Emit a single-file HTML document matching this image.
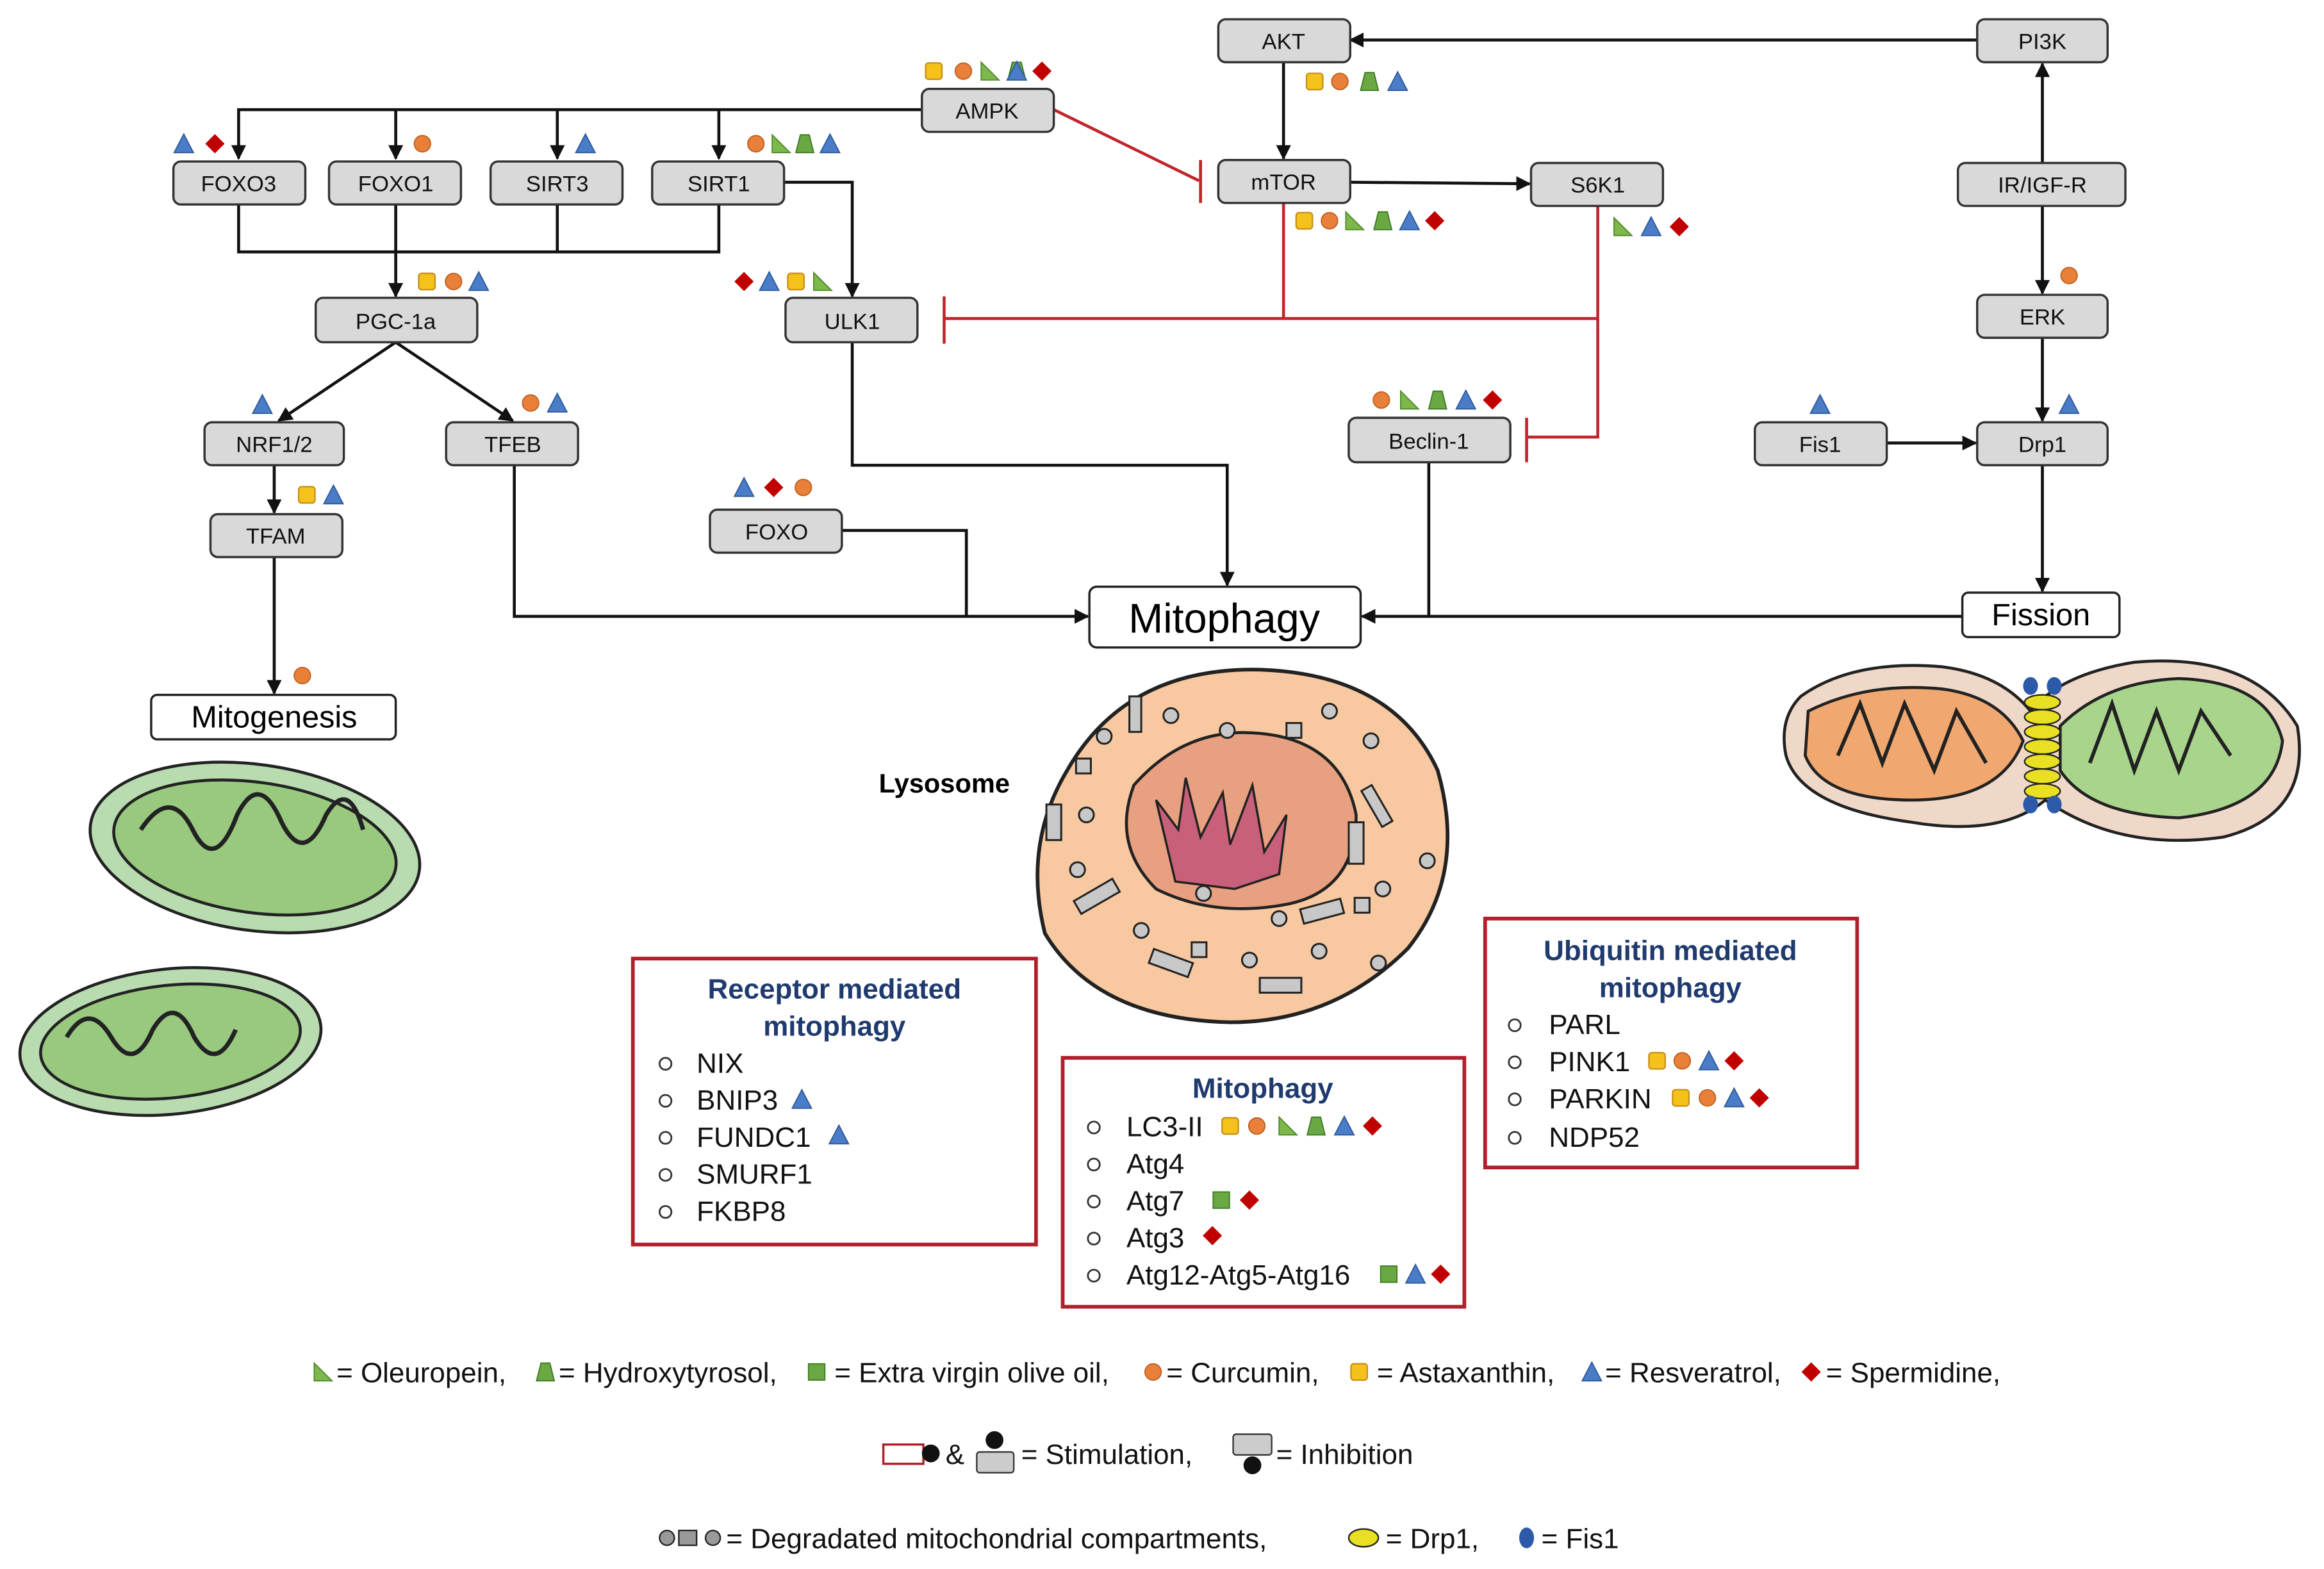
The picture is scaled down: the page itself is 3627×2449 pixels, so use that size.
<!DOCTYPE html>
<html><head><meta charset="utf-8"><style>
html,body{margin:0;padding:0;background:#fff}
svg{display:block}
text{font-family:"Liberation Sans",Arial,sans-serif}
</style></head><body>
<svg width="3627" height="2449" viewBox="0 0 1568 1059" preserveAspectRatio="none" xmlns="http://www.w3.org/2000/svg">
<defs>
<marker id="ar" markerWidth="10" markerHeight="10" refX="9" refY="5" orient="auto" markerUnits="userSpaceOnUse"><path d="M0,0 L10,5 L0,10 z" fill="#111"/></marker>
<g id="sq"><rect x="-5.5" y="-5.5" width="11" height="11" rx="2" fill="#f5c21b" stroke="#c8901a" stroke-width="1"/></g>
<g id="ci"><circle r="5.5" fill="#e8803a" stroke="#c06020" stroke-width="0.8"/></g>
<g id="rt"><path d="M-6,6 L-6,-6 L6,6 z" fill="#7cb84a" stroke="#4f8a2a" stroke-width="0.8"/></g>
<g id="tp"><path d="M-6,6 L-3,-6 L3,-6 L6,6 z" fill="#6aa844" stroke="#3f7a22" stroke-width="0.8"/></g>
<g id="tr"><path d="M-6.5,6 L0,-6.5 L6.5,6 z" fill="#4a7cc7" stroke="#2e5a9c" stroke-width="0.8"/></g>
<g id="di"><path d="M0,-6.5 L6.5,0 L0,6.5 L-6.5,0 z" fill="#c00000"/></g>
<g id="gs"><rect x="-5.5" y="-5.5" width="11" height="11" fill="#6aa844" stroke="#3f7a22" stroke-width="0.8"/></g>
</defs>

<!-- lines black -->
<g stroke="#111" stroke-width="2" fill="none">
<line x1="1334" y1="27" x2="911" y2="27" marker-end="url(#ar)"/>
<line x1="866" y1="42" x2="866" y2="107" marker-end="url(#ar)"/>
<line x1="1378" y1="110" x2="1378" y2="43" marker-end="url(#ar)"/>
<line x1="1378" y1="139" x2="1378" y2="198" marker-end="url(#ar)"/>
<line x1="1378" y1="228" x2="1378" y2="284" marker-end="url(#ar)"/>
<line x1="1273" y1="299" x2="1333" y2="299" marker-end="url(#ar)"/>
<line x1="1378" y1="314" x2="1378" y2="399" marker-end="url(#ar)"/>
<line x1="1324" y1="416" x2="919" y2="416" marker-end="url(#ar)"/>
<line x1="911" y1="123" x2="1032" y2="124" marker-end="url(#ar)"/>
<polyline points="622,74 161,74 161,107" marker-end="url(#ar)"/>
<line x1="267" y1="74" x2="267" y2="107" marker-end="url(#ar)"/>
<line x1="376" y1="74" x2="376" y2="107" marker-end="url(#ar)"/>
<line x1="485" y1="74" x2="485" y2="107" marker-end="url(#ar)"/>
<polyline points="161,138 161,170 485,170 485,138"/>
<line x1="376" y1="138" x2="376" y2="170"/>
<line x1="267" y1="138" x2="267" y2="200" marker-end="url(#ar)"/>
<polyline points="529,123 575,123 575,200" marker-end="url(#ar)"/>
<polyline points="575,231 575,314 828,314 828,395" marker-end="url(#ar)"/>
<polyline points="568,358 652,358 652,416"/>
<polyline points="347,314 347,416 734,416" marker-end="url(#ar)"/>
<line x1="964" y1="312" x2="964" y2="416"/>
<line x1="267" y1="231" x2="188" y2="284" marker-end="url(#ar)"/>
<line x1="267" y1="231" x2="346" y2="284" marker-end="url(#ar)"/>
<line x1="185" y1="314" x2="185" y2="346" marker-end="url(#ar)"/>
<line x1="185" y1="376" x2="185" y2="468" marker-end="url(#ar)"/>
</g>
<!-- red inhibition -->
<g stroke="#c0262c" stroke-width="2" fill="none">
<line x1="711" y1="74" x2="809" y2="122"/>
<line x1="810" y1="108" x2="810" y2="137"/>
<line x1="866" y1="137" x2="866" y2="215"/>
<polyline points="1078,139 1078,295 1030,295"/>
<line x1="1030" y1="282" x2="1030" y2="312"/>
<line x1="637" y1="215" x2="1078" y2="215"/>
<line x1="637" y1="200" x2="637" y2="232"/>
</g>

<!-- gray boxes -->
<g fill="#d9d9d9" stroke="#333" stroke-width="1.5">
<rect x="822" y="13" width="89" height="29" rx="5"/>
<rect x="1334" y="13" width="88" height="29" rx="5"/>
<rect x="622" y="60" width="89" height="29" rx="5"/>
<rect x="822" y="108" width="89" height="29" rx="5"/>
<rect x="1033" y="110" width="89" height="29" rx="5"/>
<rect x="1321" y="110" width="113" height="29" rx="5"/>
<rect x="117" y="109" width="89" height="29" rx="5"/>
<rect x="222" y="109" width="89" height="29" rx="5"/>
<rect x="331" y="109" width="89" height="29" rx="5"/>
<rect x="440" y="109" width="89" height="29" rx="5"/>
<rect x="213" y="201" width="109" height="30" rx="5"/>
<rect x="530" y="201" width="89" height="30" rx="5"/>
<rect x="1334" y="199" width="88" height="29" rx="5"/>
<rect x="138" y="285" width="94" height="29" rx="5"/>
<rect x="301" y="285" width="89" height="29" rx="5"/>
<rect x="910" y="282" width="109" height="30" rx="5"/>
<rect x="1184" y="285" width="89" height="29" rx="5"/>
<rect x="1334" y="285" width="88" height="29" rx="5"/>
<rect x="142" y="347" width="89" height="29" rx="5"/>
<rect x="479" y="344" width="89" height="29" rx="5"/>
</g>
<g font-size="15" text-anchor="middle" fill="#111">
<text x="866" y="33">AKT</text><text x="1378" y="33">PI3K</text><text x="666" y="80">AMPK</text>
<text x="866" y="128">mTOR</text><text x="1078" y="130">S6K1</text><text x="1378" y="130">IR/IGF-R</text>
<text x="161" y="129">FOXO3</text><text x="267" y="129">FOXO1</text><text x="376" y="129">SIRT3</text><text x="485" y="129">SIRT1</text>
<text x="267" y="222">PGC-1a</text><text x="575" y="222">ULK1</text><text x="1378" y="219">ERK</text>
<text x="185" y="305">NRF1/2</text><text x="346" y="305">TFEB</text><text x="964" y="303">Beclin-1</text>
<text x="1228" y="305">Fis1</text><text x="1378" y="305">Drp1</text><text x="186" y="367">TFAM</text><text x="524" y="364">FOXO</text>
</g>
<!-- white boxes -->
<g fill="#fff" stroke="#222" stroke-width="1.5">
<rect x="735" y="396" width="183" height="41" rx="5"/>
<rect x="1324" y="400" width="106" height="30" rx="4"/>
<rect x="102" y="469" width="165" height="30" rx="4"/>
</g>
<text x="826" y="427" font-size="28" text-anchor="middle">Mitophagy</text>
<text x="1377" y="422" font-size="21" text-anchor="middle">Fission</text>
<text x="185" y="491" font-size="21" text-anchor="middle">Mitogenesis</text>

<!-- icons -->
<use href="#sq" x="630" y="48"/><use href="#ci" x="650" y="48"/><use href="#rt" x="668" y="48"/><use href="#tp" x="686" y="48"/><use href="#tr" x="686" y="48" transform="translate(0,0)"/>
<use href="#di" x="703" y="48"/>
<use href="#tr" x="124" y="97"/><use href="#di" x="145" y="97"/>
<use href="#ci" x="285" y="97"/><use href="#tr" x="395" y="97"/>
<use href="#ci" x="510" y="97"/><use href="#rt" x="527" y="97"/><use href="#tp" x="543" y="97"/><use href="#tr" x="560" y="97"/>
<use href="#sq" x="288" y="190"/><use href="#ci" x="306" y="190"/><use href="#tr" x="323" y="190"/>
<use href="#di" x="502" y="190"/><use href="#tr" x="519" y="190"/><use href="#sq" x="537" y="190"/><use href="#rt" x="555" y="190"/>
<use href="#sq" x="887" y="55"/><use href="#ci" x="904" y="55"/><use href="#tp" x="924" y="55"/><use href="#tr" x="943" y="55"/>
<use href="#sq" x="880" y="149"/><use href="#ci" x="897" y="149"/><use href="#rt" x="914" y="149"/><use href="#tp" x="933" y="149"/><use href="#tr" x="951" y="149"/><use href="#di" x="968" y="149"/>
<use href="#rt" x="1095" y="153"/><use href="#tr" x="1114" y="153"/><use href="#di" x="1133" y="153"/>
<use href="#ci" x="932" y="270"/><use href="#rt" x="951" y="270"/><use href="#tp" x="970" y="270"/><use href="#tr" x="989" y="270"/><use href="#di" x="1007" y="270"/>
<use href="#tr" x="177" y="273"/><use href="#ci" x="358" y="272"/><use href="#tr" x="376" y="272"/>
<use href="#sq" x="207" y="334"/><use href="#tr" x="225" y="334"/>
<use href="#tr" x="502" y="329"/><use href="#di" x="522" y="329"/><use href="#ci" x="542" y="329"/>
<use href="#ci" x="1396" y="186"/><use href="#tr" x="1228" y="273"/><use href="#tr" x="1396" y="273"/>
<use href="#ci" x="204" y="456"/>

<!-- left mitochondria -->
<g stroke="#222" stroke-width="2">
<ellipse cx="172" cy="572" rx="112" ry="56" fill="#b9dbb0" transform="rotate(8 172 572)"/>
<ellipse cx="172" cy="572" rx="96" ry="44" fill="#98c97e" transform="rotate(8 172 572)"/>
<path d="M95,560 q20,-30 35,0 q15,30 30,-10 q15,-30 30,5 q15,30 30,-5 q15,-25 25,10" fill="none" stroke-width="3"/>
<ellipse cx="115" cy="703" rx="102" ry="49" fill="#b9dbb0" transform="rotate(-6 115 703)"/>
<ellipse cx="115" cy="703" rx="88" ry="38" fill="#98c97e" transform="rotate(-6 115 703)"/>
<path d="M45,700 q15,-25 30,0 q15,25 28,-5 q15,-25 28,5 q15,25 28,-5" fill="none" stroke-width="3"/>
</g>

<!-- lysosome -->
<path d="M720,520 Q760,450 850,452 Q940,455 970,520 Q990,590 950,640 Q900,690 830,690 Q740,688 705,630 Q690,570 720,520z" fill="#f8c9a0" stroke="#222" stroke-width="2.5"/>
<path d="M765,530 Q800,490 850,495 Q905,500 915,550 Q915,600 870,610 Q820,620 780,600 Q750,570 765,530z" fill="#e7a080" stroke="#222" stroke-width="2"/>
<path d="M780,540 l15,20 l5,-35 l10,40 l15,-30 l5,35 l15,-40 l8,45 l15,-25 l-5,40 l-30,10 l-40,-5 z" fill="#c8607a" stroke="#222" stroke-width="1.5"/>
<g fill="#c8c8c8" stroke="#222" stroke-width="1.3">
<circle cx="745" cy="497" r="5"/><circle cx="790" cy="483" r="5"/><circle cx="828" cy="493" r="5"/><circle cx="897" cy="480" r="5"/><circle cx="925" cy="500" r="5"/>
<circle cx="733" cy="550" r="5"/><circle cx="727" cy="587" r="5"/><circle cx="770" cy="628" r="5"/><circle cx="812" cy="603" r="5"/><circle cx="863" cy="620" r="5"/>
<circle cx="890" cy="642" r="5"/><circle cx="930" cy="650" r="5"/><circle cx="843" cy="648" r="5"/><circle cx="963" cy="581" r="5"/><circle cx="933" cy="600" r="5"/>
<rect x="762" y="470" width="8" height="24"/><rect x="706" y="543" width="10" height="24"/><rect x="725" y="600" width="30" height="10" transform="rotate(-30 740 605)"/>
<rect x="925" y="530" width="8" height="28" transform="rotate(-30 929 544)"/><rect x="910" y="555" width="10" height="28"/><rect x="776" y="645" width="28" height="10" transform="rotate(20 790 650)"/>
<rect x="850" y="660" width="28" height="10"/><rect x="878" y="610" width="28" height="10" transform="rotate(-15 892 615)"/>
<rect x="868" y="488" width="10" height="10"/><rect x="726" y="512" width="10" height="10"/><rect x="804" y="636" width="10" height="10"/><rect x="914" y="606" width="10" height="10"/>
</g>
<text x="593" y="535" font-size="18" font-weight="bold">Lysosome</text>

<!-- fission mito -->
<path d="M1215,470 Q1250,445 1310,450 Q1350,455 1370,480 Q1390,455 1440,447 Q1520,440 1550,490 Q1560,550 1500,565 Q1430,575 1380,540 Q1350,565 1290,555 Q1215,545 1205,510 Q1200,485 1215,470z" fill="#f0d8c8" stroke="#222" stroke-width="2"/>
<path d="M1220,480 Q1260,460 1310,465 Q1350,470 1365,500 Q1350,540 1290,540 Q1230,540 1218,510z" fill="#f0a870" stroke="#222" stroke-width="2"/>
<path d="M1390,490 Q1420,460 1470,458 Q1530,460 1540,500 Q1535,545 1470,552 Q1410,550 1390,520z" fill="#a8d48c" stroke="#222" stroke-width="2"/>
<path d="M1240,510 l15,-35 l15,40 l15,-40 l20,45 l15,-40 l20,35" fill="none" stroke="#222" stroke-width="2.5"/>
<path d="M1410,515 l15,-40 l15,45 l15,-40 l15,40 l15,-40 l20,30" fill="none" stroke="#222" stroke-width="2.5"/>
<g fill="#e8e020" stroke="#222" stroke-width="1">
<ellipse cx="1378" cy="474" rx="12" ry="5"/><ellipse cx="1378" cy="484" rx="12" ry="5"/><ellipse cx="1378" cy="494" rx="12" ry="5"/><ellipse cx="1378" cy="504" rx="12" ry="5"/><ellipse cx="1378" cy="514" rx="12" ry="5"/><ellipse cx="1378" cy="524" rx="12" ry="5"/><ellipse cx="1378" cy="534" rx="12" ry="5"/>
</g>
<g fill="#2d5aa8"><ellipse cx="1370" cy="463" rx="5" ry="6"/><ellipse cx="1386" cy="463" rx="5" ry="6"/><ellipse cx="1370" cy="543" rx="5" ry="6"/><ellipse cx="1386" cy="543" rx="5" ry="6"/></g>

<!-- info boxes -->
<g fill="#fff" stroke="#b0202a" stroke-width="2.5">
<rect x="427" y="647" width="272" height="193"/>
<rect x="717" y="714" width="271" height="168"/>
<rect x="1002" y="620" width="251" height="168"/>
</g>
<g font-size="19" font-weight="bold" fill="#1f3a6e" text-anchor="middle">
<text x="563" y="674">Receptor mediated</text><text x="563" y="699">mitophagy</text>
<text x="852" y="741">Mitophagy</text>
<text x="1127" y="648">Ubiquitin mediated</text><text x="1127" y="673">mitophagy</text>
</g>
<g fill="none" stroke="#333" stroke-width="1.2">
<circle cx="449" cy="718" r="4"/><circle cx="449" cy="743" r="4"/><circle cx="449" cy="768" r="4"/><circle cx="449" cy="793" r="4"/><circle cx="449" cy="818" r="4"/>
<circle cx="738" cy="761" r="4"/><circle cx="738" cy="786" r="4"/><circle cx="738" cy="811" r="4"/><circle cx="738" cy="836" r="4"/><circle cx="738" cy="861" r="4"/>
<circle cx="1022" cy="692" r="4"/><circle cx="1022" cy="717" r="4"/><circle cx="1022" cy="742" r="4"/><circle cx="1022" cy="768" r="4"/>
</g>
<g font-size="19" fill="#111">
<text x="470" y="724">NIX</text><text x="470" y="749">BNIP3</text><text x="470" y="774">FUNDC1</text><text x="470" y="799">SMURF1</text><text x="470" y="824">FKBP8</text>
<text x="760" y="767">LC3-II</text><text x="760" y="792">Atg4</text><text x="760" y="817">Atg7</text><text x="760" y="842">Atg3</text><text x="760" y="867">Atg12-Atg5-Atg16</text>
<text x="1045" y="698">PARL</text><text x="1045" y="723">PINK1</text><text x="1045" y="748">PARKIN</text><text x="1045" y="774">NDP52</text>
</g>
<use href="#tr" x="541" y="742"/><use href="#tr" x="566" y="766"/>
<use href="#sq" x="830" y="760"/><use href="#ci" x="848" y="760"/><use href="#rt" x="869" y="760"/><use href="#tp" x="888" y="760"/><use href="#tr" x="907" y="760"/><use href="#di" x="926" y="760"/>
<use href="#gs" x="824" y="810"/><use href="#di" x="843" y="810"/><use href="#di" x="818" y="834"/>
<use href="#gs" x="937" y="860"/><use href="#tr" x="955" y="860"/><use href="#di" x="972" y="860"/>
<use href="#sq" x="1118" y="716"/><use href="#ci" x="1135" y="716"/><use href="#tr" x="1153" y="716"/><use href="#di" x="1170" y="716"/>
<use href="#sq" x="1134" y="741"/><use href="#ci" x="1152" y="741"/><use href="#tr" x="1170" y="741"/><use href="#di" x="1187" y="741"/>

<!-- legend -->
<g font-size="19" fill="#111">
<use href="#rt" x="218" y="926"/><text x="227" y="933">= Oleuropein,</text>
<use href="#tp" x="368" y="926"/><text x="377" y="933">= Hydroxytyrosol,</text>
<use href="#gs" x="551" y="926"/><text x="563" y="933">= Extra virgin olive oil,</text>
<use href="#ci" x="778" y="926"/><text x="787" y="933">= Curcumin,</text>
<use href="#sq" x="917" y="926"/><text x="929" y="933">= Astaxanthin,</text>
<use href="#tr" x="1074" y="926"/><text x="1083" y="933">= Resveratrol,</text>
<use href="#di" x="1222" y="926"/><text x="1232" y="933">= Spermidine,</text>
<rect x="596" y="975" width="27" height="13" fill="#fff" stroke="#b0202a" stroke-width="1.5"/><circle cx="628" cy="981" r="6" fill="#111"/>
<text x="638" y="988">&amp;</text>
<circle cx="671" cy="972" r="6" fill="#111"/><rect x="659" y="980" width="25" height="14" rx="2" fill="#ccc" stroke="#333"/>
<text x="689" y="988">= Stimulation,</text>
<rect x="832" y="968" width="26" height="14" rx="2" fill="#ccc" stroke="#333"/><circle cx="845" cy="989" r="6" fill="#111"/>
<text x="861" y="988">= Inhibition</text>
<circle cx="450" cy="1038" r="5" fill="#999" stroke="#222"/><rect x="458" y="1033" width="12" height="10" fill="#999" stroke="#222"/><circle cx="481" cy="1038" r="5" fill="#999" stroke="#222"/>
<text x="490" y="1045">= Degradated mitochondrial compartments,</text>
<ellipse cx="920" cy="1038" rx="10" ry="6" fill="#e8e020" stroke="#222"/><text x="935" y="1045">= Drp1,</text>
<ellipse cx="1030" cy="1038" rx="5" ry="7" fill="#2d5aa8"/><text x="1040" y="1045">= Fis1</text>
</g>
</svg>
</body></html>
